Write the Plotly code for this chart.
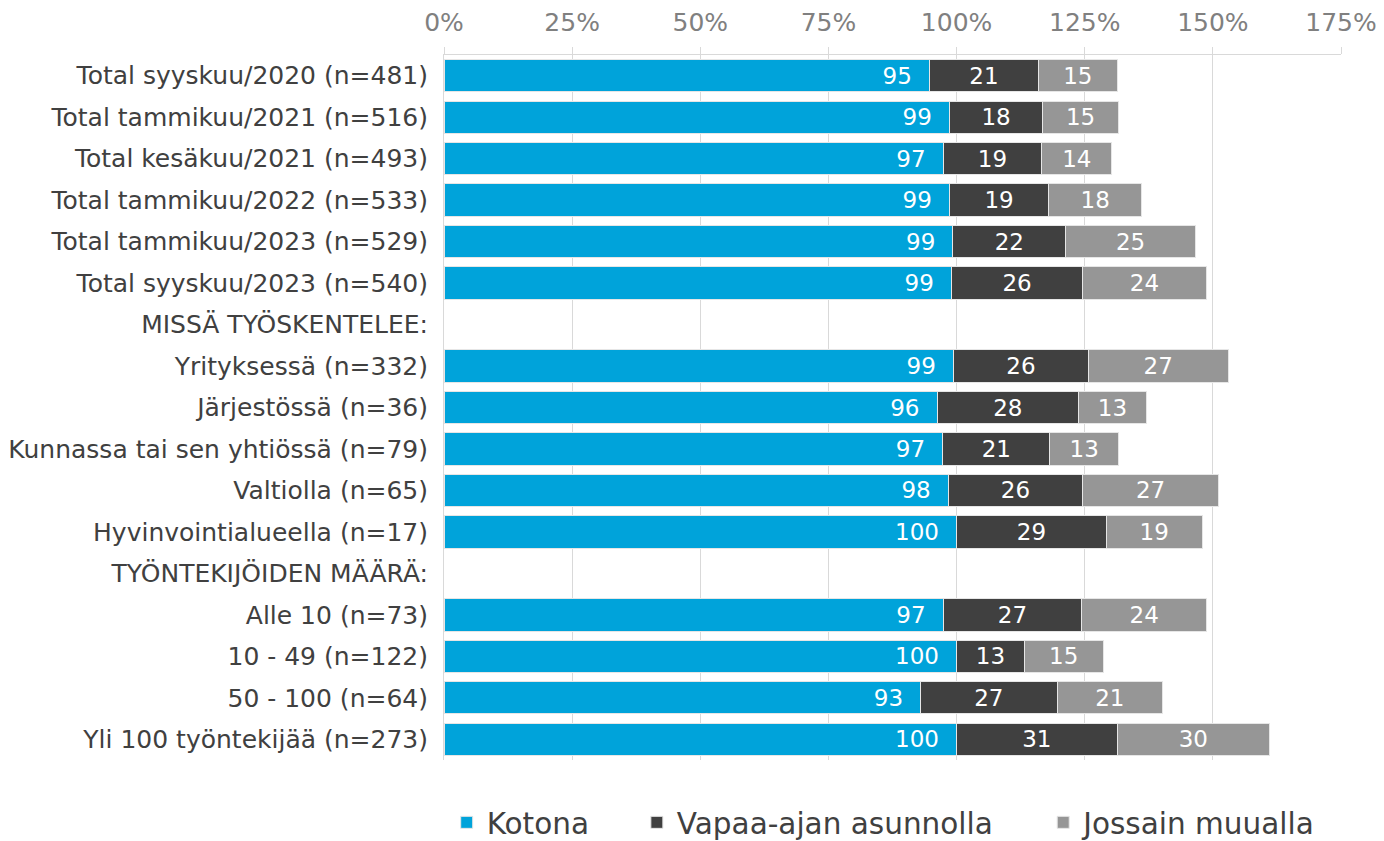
import plotly.graph_objects as go

categories = [
    "Total syyskuu/2020 (n=481)",
    "Total tammikuu/2021 (n=516)",
    "Total kesäkuu/2021 (n=493)",
    "Total tammikuu/2022 (n=533)",
    "Total tammikuu/2023 (n=529)",
    "Total syyskuu/2023 (n=540)",
    "MISSÄ TYÖSKENTELEE:",
    "Yrityksessä (n=332)",
    "Järjestössä (n=36)",
    "Kunnassa tai sen yhtiössä (n=79)",
    "Valtiolla (n=65)",
    "Hyvinvointialueella (n=17)",
    "TYÖNTEKIJÖIDEN MÄÄRÄ:",
    "Alle 10 (n=73)",
    "10 - 49 (n=122)",
    "50 - 100 (n=64)",
    "Yli 100 työntekijää (n=273)",
]

kotona = [94.7, 98.6, 97.4, 98.6, 99.3, 99.0, None, 99.4, 96.2, 97.3, 98.4, 100.0, None, 97.4, 100.0, 93.0, 100.0]
vapaa = [21.3, 18.2, 19.2, 19.4, 22.0, 25.6, None, 26.3, 27.6, 20.9, 26.2, 29.2, None, 27.0, 13.2, 26.6, 31.3]
jossain = [15.3, 14.8, 13.7, 18.1, 25.3, 24.1, None, 27.3, 13.2, 13.4, 26.5, 18.7, None, 24.4, 15.4, 20.6, 29.8]

series_names = ["Kotona", "Vapaa-ajan asunnolla", "Jossain muualla"]
series_values = [kotona, vapaa, jossain]
colors = ["#00A3DA", "#404040", "#969696"]
anchors = ["end", "middle", "middle"]
templates = ["%{x:.0f}\u00a0\u00a0", "%{x:.0f}", "%{x:.0f}"]
legend_ids = ["legend", "legend2", "legend3"]
legend_x = [0.003, 0.215, 0.668]

tick_vals = [0, 25, 50, 75, 100, 125, 150, 175]
tick_text = ["0%", "25%", "50%", "75%", "100%", "125%", "150%", "175%"]

fig = go.Figure()
for name, vals, col, anc, tpl, lid in zip(series_names, series_values, colors, anchors, templates, legend_ids):
    fig.add_trace(go.Bar(
        y=categories, x=vals, name=name, orientation="h",
        marker=dict(color=col, line=dict(color="#e6e6e6", width=1)),
        texttemplate=tpl, textposition="inside",
        insidetextanchor=anc,
        insidetextfont=dict(color="white", size=23, family="DejaVu Sans"),
        constraintext="none",
        hoverinfo="skip",
        legend=lid,
    ))

legend_common = dict(
    orientation="h", yref="container", y=0.022, yanchor="middle", xanchor="left",
    font=dict(size=29.5, color="#404040", family="DejaVu Sans"),
    itemwidth=30, bgcolor="rgba(0,0,0,0)",
)

fig.update_layout(
    barmode="stack",
    bargap=0.22,
    width=1376, height=833,
    margin=dict(l=436, r=43, t=47, b=81),
    paper_bgcolor="white", plot_bgcolor="white",
    font=dict(family="DejaVu Sans", color="#404040", size=25),
    showlegend=True,
    legend=dict(x=legend_x[0], **legend_common),
    legend2=dict(x=legend_x[1], **legend_common),
    legend3=dict(x=legend_x[2], **legend_common),
    xaxis=dict(
        side="top", range=[0, 175], tickvals=tick_vals, ticktext=tick_text,
        tickfont=dict(size=25, color="#808080"),
        showgrid=True, gridcolor="#d9d9d9", gridwidth=1,
        showline=True, linecolor="#d9d9d9", linewidth=1,
        ticks="outside", ticklen=7, tickcolor="#d9d9d9",
        ticklabelstandoff=6,
        zeroline=False, fixedrange=True, automargin=False,
    ),
    yaxis=dict(
        categoryorder="array", categoryarray=categories, autorange="reversed",
        tickfont=dict(size=25, color="#404040"),
        showline=True, linecolor="#d9d9d9", linewidth=1,
        ticks="", ticklabelstandoff=10, fixedrange=True, automargin=False,
    ),
)

fig.write_html("out.html")
